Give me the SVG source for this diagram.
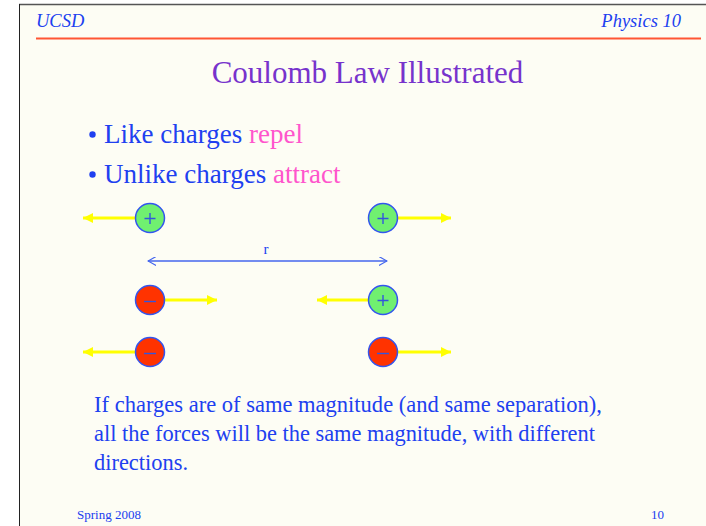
<svg xmlns="http://www.w3.org/2000/svg" width="706" height="526" viewBox="0 0 706 526">
<style>
.serif{font-family:"Liberation Serif","Times New Roman",serif}
.blue{fill:#2040f0}
.pink{fill:#ff55cc}
.force{stroke:#ffff00;stroke-width:3;fill:none}
.pos{fill:#70f070;stroke:#3355ee;stroke-width:1.5}
.neg{fill:#ff3300;stroke:#3355ee;stroke-width:1.5}
.sign{stroke:#3355dd;stroke-width:1.4;fill:none}
</style>
<defs>
<marker id="yh" viewBox="0 0 10 10" refX="10" refY="5" markerWidth="11" markerHeight="10" markerUnits="userSpaceOnUse" orient="auto">
<path d="M0,0 L10,5 L0,10 Z" fill="#ffff00"/>
</marker>
<marker id="bh" viewBox="0 0 10 10" refX="9" refY="5" markerWidth="9" markerHeight="9" markerUnits="userSpaceOnUse" orient="auto-start-reverse">
<path d="M0,0 L9,5 L0,10" fill="none" stroke="#4466ee" stroke-width="1.3"/>
</marker>
</defs>
<rect x="0" y="0" width="706" height="526" fill="#ffffff"/>
<rect x="19" y="4" width="687" height="522" fill="#fdfdf4"/>
<line x1="19" y1="4.5" x2="706" y2="4.5" stroke="#555555" stroke-width="1.5"/>
<line x1="19.5" y1="4" x2="19.5" y2="526" stroke="#222222" stroke-width="1"/>
<g id="header">
<text class="serif blue" x="36" y="27" font-size="18.5" font-style="italic">UCSD</text>
<text class="serif blue" x="681" y="27" font-size="18.5" font-style="italic" text-anchor="end">Physics 10</text>
<line x1="36" y1="38.5" x2="701" y2="38.5" stroke="#ff5533" stroke-width="2"/>
</g>
<g id="title">
<text class="serif" x="367.5" y="83" font-size="31" text-anchor="middle" fill="#7733cc">Coulomb Law Illustrated</text>
</g>
<g id="bullets">
<circle cx="92.5" cy="134.5" r="3.2" fill="#2040f0"/>
<text class="serif" x="104" y="143" font-size="27"><tspan class="blue">Like charges </tspan><tspan class="pink">repel</tspan></text>
<circle cx="92.5" cy="174.5" r="3.2" fill="#2040f0"/>
<text class="serif" x="104" y="183" font-size="27"><tspan class="blue">Unlike charges </tspan><tspan class="pink">attract</tspan></text>
</g>
<g id="connectors">
<line class="force" x1="135" y1="218" x2="83" y2="218" marker-end="url(#yh)"/>
<line class="force" x1="398" y1="218" x2="451" y2="218" marker-end="url(#yh)"/>
<line class="force" x1="165" y1="300" x2="217" y2="300" marker-end="url(#yh)"/>
<line class="force" x1="368" y1="300" x2="317" y2="300" marker-end="url(#yh)"/>
<line class="force" x1="135" y1="352" x2="83" y2="352" marker-end="url(#yh)"/>
<line class="force" x1="398" y1="352" x2="451" y2="352" marker-end="url(#yh)"/>
<line x1="148" y1="261" x2="387" y2="261" stroke="#4466ee" stroke-width="1.3" marker-start="url(#bh)" marker-end="url(#bh)"/>
<text class="serif blue" x="266" y="254" font-size="15" text-anchor="middle">r</text>
</g>
<g id="charge-tl"><circle class="pos" cx="150" cy="218" r="14.5"/><path class="sign" d="M144.5,218.5 H155.5 M150,213 V224"/></g>
<g id="charge-tr"><circle class="pos" cx="383" cy="218" r="14.5"/><path class="sign" d="M377.5,218.5 H388.5 M383,213 V224"/></g>
<g id="charge-ml"><circle class="neg" cx="150" cy="300" r="14.5"/><path class="sign" d="M144,301.5 H156"/></g>
<g id="charge-mr"><circle class="pos" cx="383" cy="300" r="14.5"/><path class="sign" d="M377.5,300.5 H388.5 M383,295 V306"/></g>
<g id="charge-bl"><circle class="neg" cx="150" cy="352" r="14.5"/><path class="sign" d="M144,353.5 H156"/></g>
<g id="charge-br"><circle class="neg" cx="383" cy="352" r="14.5"/><path class="sign" d="M377,353.5 H389"/></g>
<g id="note">
<text class="serif blue" font-size="23.5"><tspan x="94" y="412" textLength="508" lengthAdjust="spacingAndGlyphs">If charges are of same magnitude (and same separation),</tspan><tspan x="94" y="441" textLength="501" lengthAdjust="spacingAndGlyphs">all the forces will be the same magnitude, with different</tspan><tspan x="94" y="470" textLength="94" lengthAdjust="spacingAndGlyphs">directions.</tspan></text>
</g>
<g id="footer">
<text class="serif blue" x="77" y="519" font-size="13">Spring 2008</text>
<text class="serif blue" x="664" y="519" font-size="13" text-anchor="end">10</text>
</g>
</svg>
